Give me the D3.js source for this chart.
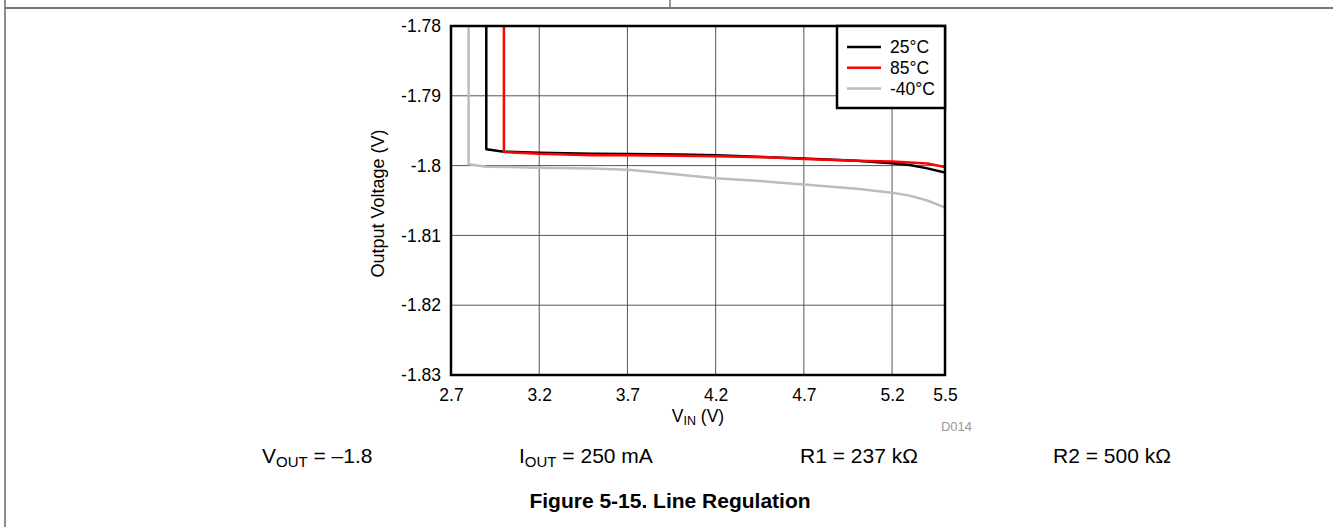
<!DOCTYPE html>
<html>
<head>
<meta charset="utf-8">
<script src="https://cdn.jsdelivr.net/npm/d3@7/dist/d3.min.js"></script>
<style>
  html, body { margin: 0; padding: 0; background: #fff; }
  svg { display: block; font-family: "Liberation Sans", Arial, sans-serif; }
</style>
</head>
<body>
<svg id="chart" width="1333" height="527"></svg>
<script>
// Line regulation: output voltage vs input voltage at three temperatures
const xTicks = [2.7, 3.2, 3.7, 4.2, 4.7, 5.2, 5.5];
const yTicks = [-1.78, -1.79, -1.80, -1.81, -1.82, -1.83];

const vin25 = [2.9, 2.9, 3.0, 3.2, 3.5, 3.7, 4.0, 4.2, 4.5, 4.7, 5.0, 5.2, 5.3, 5.4, 5.5];
const vout25 = [-1.78, -1.79767, -1.7980, -1.79815, -1.7983, -1.79835, -1.7984, -1.7985, -1.7988, -1.7990, -1.7993, -1.79965, -1.7999, -1.8004, -1.8010];

const vin85 = [3.0, 3.0, 3.2, 3.5, 3.7, 4.0, 4.2, 4.5, 4.7, 5.0, 5.2, 5.4, 5.5];
const vout85 = [-1.78, -1.79805, -1.7983, -1.7985, -1.7985, -1.7986, -1.79865, -1.7988, -1.79905, -1.7993, -1.7994, -1.7997, -1.8002];

const vinM40 = [2.8, 2.8, 2.9, 3.2, 3.5, 3.7, 3.8, 4.0, 4.2, 4.5, 4.7, 5.0, 5.2, 5.3, 5.4, 5.5];
const voutM40 = [-1.78, -1.79982, -1.80015, -1.8003, -1.8004, -1.8006, -1.8008, -1.8013, -1.8018, -1.8023, -1.8027, -1.8033, -1.8039, -1.8043, -1.8050, -1.8060];

const seriesNames = ["25°C", "85°C", "-40°C"];
const seriesColors = ["#000000", "#ff0000", "#bdbdbd"];

const svg = d3.select("#chart");

// page frame of the datasheet
svg.append("line").attr("x1", 5).attr("x2", 1333).attr("y1", 8).attr("y2", 8)
  .attr("stroke", "#4a4a4a").attr("stroke-width", 1.5);
svg.append("line").attr("x1", 5).attr("x2", 5).attr("y1", 0).attr("y2", 527)
  .attr("stroke", "#666").attr("stroke-width", 1.5);
svg.append("line").attr("x1", 670).attr("x2", 670).attr("y1", 0).attr("y2", 8)
  .attr("stroke", "#777").attr("stroke-width", 1.5);

const plotLeft = 451, plotRight = 945, plotTop = 26, plotBottom = 375;
const x = d3.scaleLinear().domain([2.7, 5.5]).range([plotLeft, plotRight]);
const y = d3.scaleLinear().domain([-1.78, -1.83]).range([plotTop, plotBottom]);

const fmt = d => String(+(+d).toFixed(2));

// grid
const grid = svg.append("g");
grid.selectAll("line.v").data(xTicks.slice(1, -1)).join("line")
  .attr("x1", d => x(d)).attr("x2", d => x(d)).attr("y1", plotTop).attr("y2", plotBottom)
  .attr("stroke", "#555").attr("stroke-width", 1);
grid.selectAll("line.h").data(yTicks.slice(1, -1)).join("line")
  .attr("x1", plotLeft).attr("x2", plotRight).attr("y1", d => y(d)).attr("y2", d => y(d))
  .attr("stroke", "#555").attr("stroke-width", 1);

// axes
const xAxis = svg.append("g").attr("transform", `translate(0,${plotBottom})`)
  .call(d3.axisBottom(x).tickValues(xTicks).tickFormat(d3.format(".1f")).tickSize(0).tickPadding(14));
const yAxis = svg.append("g").attr("transform", `translate(${plotLeft},0)`)
  .call(d3.axisLeft(y).tickValues(yTicks).tickFormat(fmt).tickSize(0).tickPadding(10));
[xAxis, yAxis].forEach(a => {
  a.select(".domain").remove();
  a.selectAll("text").attr("font-size", 17.5).attr("fill", "#000")
    .attr("font-family", "'Liberation Sans', Arial, sans-serif");
});

// curves
const line = d3.line().x(d => x(d[0])).y(d => y(d[1]));
const series = [
  d3.zip(vinM40, voutM40),
  d3.zip(vin25, vout25),
  d3.zip(vin85, vout85)
];
const seriesOrder = [2, 0, 1];
svg.append("defs").append("clipPath").attr("id", "plotclip")
  .append("rect").attr("x", plotLeft).attr("y", plotTop)
  .attr("width", plotRight - plotLeft).attr("height", plotBottom - plotTop);
const curves = svg.append("g").attr("clip-path", "url(#plotclip)");
series.forEach((s, i) => {
  curves.append("path").datum(s)
    .attr("d", line)
    .attr("fill", "none")
    .attr("stroke", seriesColors[seriesOrder[i]])
    .attr("stroke-width", 2.5)
    .attr("stroke-linejoin", "round");
});

// plot frame
svg.append("rect").attr("x", plotLeft).attr("y", plotTop)
  .attr("width", plotRight - plotLeft).attr("height", plotBottom - plotTop)
  .attr("fill", "none").attr("stroke", "#000").attr("stroke-width", 2.5);

// legend
const lg = svg.append("g");
lg.append("rect").attr("x", 837).attr("y", plotTop).attr("width", plotRight - 837).attr("height", 82)
  .attr("fill", "#fff").attr("stroke", "#000").attr("stroke-width", 2.5);
seriesNames.forEach((n, i) => {
  const ly = 47 + i * 20.8;
  lg.append("line").attr("x1", 847).attr("x2", 881).attr("y1", ly).attr("y2", ly)
    .attr("stroke", seriesColors[i]).attr("stroke-width", 2.5);
  lg.append("text").attr("x", 890).attr("y", ly).attr("dy", "0.36em")
    .attr("font-size", 17.5).text(n);
});

// axis titles
const xt = svg.append("text").attr("x", (plotLeft + plotRight) / 2).attr("y", 422)
  .attr("text-anchor", "middle").attr("font-size", 17.5);
xt.append("tspan").text("V");
xt.append("tspan").attr("font-size", 12.5).attr("dy", 3).text("IN");
xt.append("tspan").attr("dy", -3).text(" (V)");

svg.append("text").attr("transform", `translate(384,${(plotTop + plotBottom) / 2 + 3}) rotate(-90)`)
  .attr("text-anchor", "middle").attr("font-size", 18).text("Output Voltage (V)");

svg.append("text").attr("x", 972).attr("y", 431).attr("text-anchor", "end")
  .attr("font-size", 13).attr("fill", "#999").text("D014");

// test conditions
const cond = [
  { x: 262, main: "V", sub: "OUT", rest: " = –1.8" },
  { x: 519, main: "I", sub: "OUT", rest: " = 250 mA" },
  { x: 800, main: "R1 = 237 kΩ", sub: "", rest: "" },
  { x: 1053, main: "R2 = 500 kΩ", sub: "", rest: "" }
];
cond.forEach(c => {
  const t = svg.append("text").attr("x", c.x).attr("y", 463).attr("font-size", 21);
  t.append("tspan").text(c.main);
  if (c.sub) {
    t.append("tspan").attr("font-size", 15).attr("dy", 4).text(c.sub);
    t.append("tspan").attr("dy", -4).text(c.rest);
  }
});

svg.append("text").attr("x", 670).attr("y", 508).attr("text-anchor", "middle")
  .attr("font-size", 21).attr("font-weight", "bold").text("Figure 5-15. Line Regulation");
</script>
</body>
</html>
